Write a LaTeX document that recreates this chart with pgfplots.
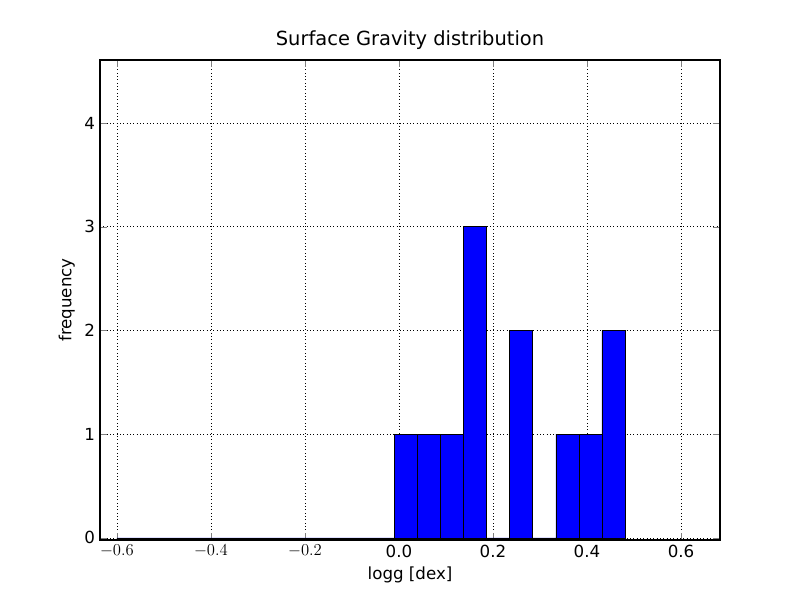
\documentclass[border=0pt]{standalone}
\usepackage{fontspec}
\setmainfont{DejaVu Sans}
\usepackage{pgfplots}
\pgfplotsset{compat=1.18}
\begin{document}
\begin{tikzpicture}
\begin{axis}[
  scale only axis, width=446.4pt, height=345.6pt,
  xmin=-0.636, xmax=0.683, ymin=-0.02, ymax=4.607,
  xtick={-0.6,-0.4,-0.2,0,0.2,0.4,0.6},
  xticklabels={$-0.6$,$-0.4$,$-0.2$,0.0,0.2,0.4,0.6},
  ytick={0,1,2,3,4},
  /pgf/number format/assume math mode=true,
  tick label style={font=\fontsize{12}{14}\selectfont},
  tick align=inside, tick pos=both,
  major tick length=5pt,
  grid=major, grid style={black, dotted},
  axis line style={line width=1pt},
  title={Surface Gravity distribution},
  title style={font=\fontsize{14}{16}\selectfont, yshift=-2pt},
  xlabel={logg [dex]}, ylabel={frequency},
  label style={font=\fontsize{12}{14}\selectfont},
  clip=false,
]
\addplot[ybar interval, fill=blue, draw=black] coordinates {
(-0.6000,0) (-0.5509,0) (-0.5017,0) (-0.4526,0) (-0.4034,0) (-0.3543,0)
(-0.3052,0) (-0.2560,0) (-0.2069,0) (-0.1577,0) (-0.1086,0) (-0.0595,0)
(-0.0103,1) (0.0388,1) (0.0880,1) (0.1371,3) (0.1862,0) (0.2354,2)
(0.2845,0) (0.3337,1) (0.3828,1) (0.4319,2) (0.4811,2)};
\path (rel axis cs:-0.1613,-0.125) rectangle (rel axis cs:1.129,1.125);
\end{axis}
\end{tikzpicture}
\end{document}
